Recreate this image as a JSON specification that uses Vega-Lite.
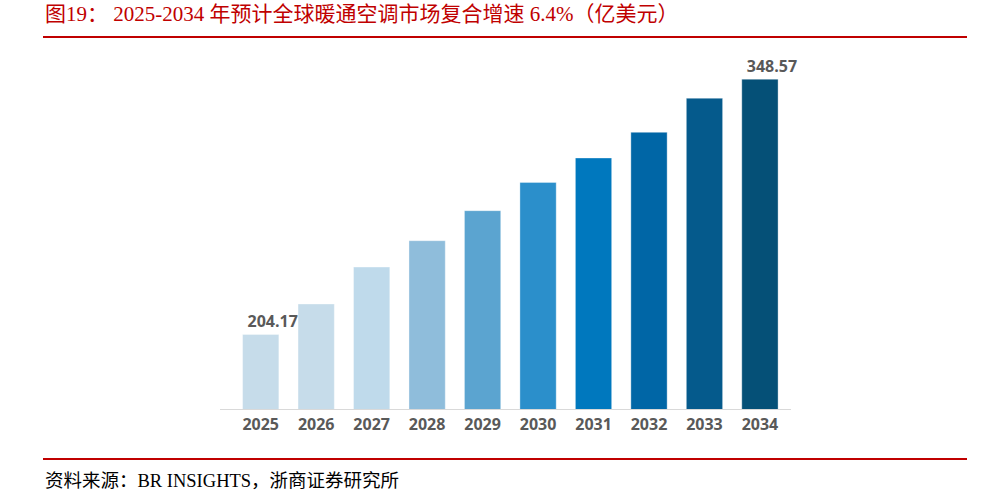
{
  "$schema": "https://vega.github.io/schema/vega-lite/v6.json",
  "background": "white",
  "padding": {"left": 43, "top": 4, "right": 15, "bottom": 0},
  "config": {"view": {"stroke": null}, "font": "Open Sans"},
  "bounds": "flush",
  "spacing": 21,
  "vconcat": [
    {
      "width": 924,
      "height": 2,
      "view": {"fill": "#c00000", "stroke": null},
      "title": {
        "text": "图19：  2025-2034 年预计全球暖通空调市场复合增速 6.4%（亿美元）",
        "anchor": "start",
        "font": "Liberation Serif, Noto Sans CJK SC",
        "fontSize": 21,
        "fontWeight": "normal",
        "color": "#c00000",
        "offset": 9,
        "dx": 2
      },
      "data": {"values": [{"k": 1}]},
      "mark": {"type": "point", "opacity": 0},
      "encoding": {}
    },
    {
      "bounds": "flush",
      "center": true,
      "spacing": 49,
      "vconcat": [
        {
          "width": 571,
          "height": 350,
          "data": {
            "values": [
              {"year": "2025", "value": 204.17},
              {"year": "2026", "value": 221.4},
              {"year": "2027", "value": 242.3},
              {"year": "2028", "value": 257.2},
              {"year": "2029", "value": 274.2},
              {"year": "2030", "value": 290.2},
              {"year": "2031", "value": 304.0},
              {"year": "2032", "value": 318.5},
              {"year": "2033", "value": 337.8},
              {"year": "2034", "value": 348.57}
            ]
          },
          "encoding": {
            "x": {
              "field": "year",
              "type": "ordinal",
              "scale": {"paddingInner": 0.346, "paddingOuter": 0.32, "align": 0.65},
              "axis": {
                "title": null,
                "labelAngle": 0,
                "labelFont": "Open Sans",
                "labelFontSize": 16,
                "labelFontWeight": "bold",
                "labelColor": "#595959",
                "labelPadding": 7,
                "ticks": false,
                "domainColor": "#d9d9d9",
                "domainWidth": 1
              }
            },
            "y": {
              "field": "value",
              "type": "quantitative",
              "scale": {"domain": [162, 360], "zero": false, "nice": false},
              "axis": null
            }
          },
          "layer": [
            {
              "mark": {"type": "bar", "clip": true, "stroke": "#ffffff", "strokeOpacity": 0.35, "strokeWidth": 1},
              "encoding": {
                "color": {
                  "field": "year",
                  "type": "ordinal",
                  "scale": {
                    "domain": ["2025", "2026", "2027", "2028", "2029", "2030", "2031", "2032", "2033", "2034"],
                    "range": ["#c6dcea", "#c6dcea", "#bfdaeb", "#8fbddb", "#5ba4d0", "#2b8fcb", "#0078be", "#0066a6", "#055a8c", "#055077"]
                  },
                  "legend": null
                }
              }
            },
            {
              "transform": [{"filter": "datum.year == '2025' || datum.year == '2034'"}],
              "mark": {
                "type": "text",
                "baseline": "alphabetic",
                "dy": -7,
                "dx": 12,
                "font": "Open Sans",
                "fontSize": 16,
                "fontWeight": "bold",
                "color": "#595959"
              },
              "encoding": {
                "text": {"field": "value", "type": "quantitative", "format": ".2f"}
              }
            }
          ]
        },
        {
          "width": 924,
          "height": 2,
          "view": {"fill": "#c00000", "stroke": null},
          "title": {
            "text": "资料来源：BR INSIGHTS，浙商证券研究所",
            "orient": "bottom",
            "anchor": "start",
            "font": "Liberation Serif, Noto Sans CJK SC",
            "fontSize": 18.5,
            "fontWeight": "normal",
            "color": "#000000",
            "offset": 10,
            "dx": 2
          },
          "data": {"values": [{"k": 1}]},
          "mark": {"type": "point", "opacity": 0},
          "encoding": {}
        }
      ]
    }
  ]
}
